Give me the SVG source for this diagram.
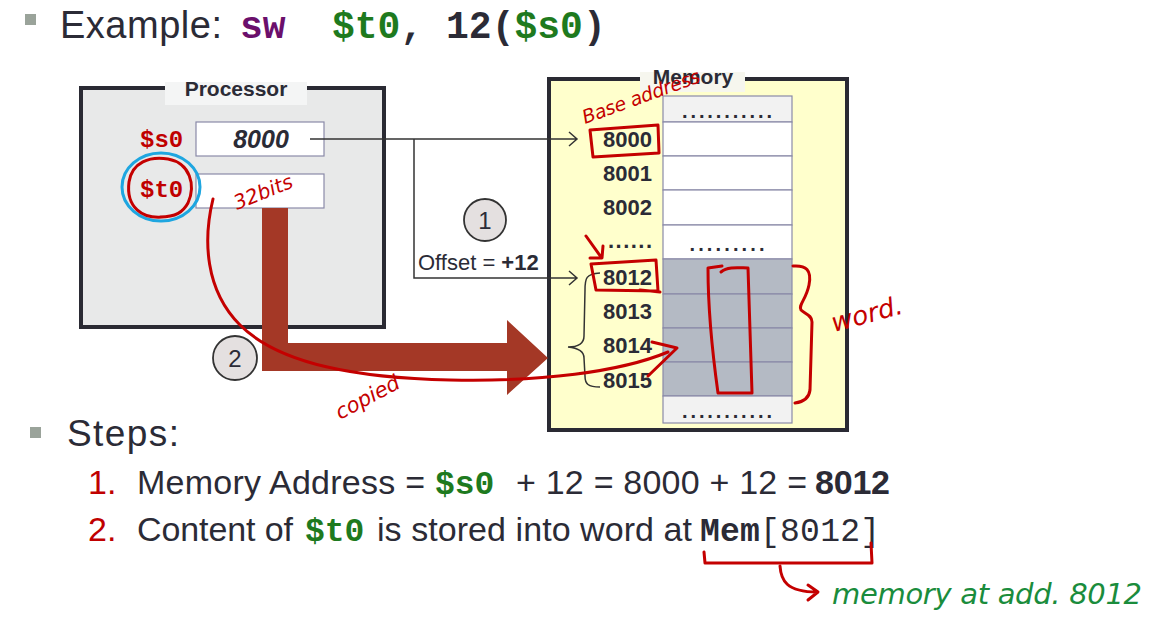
<svg xmlns="http://www.w3.org/2000/svg" width="1149" height="620" viewBox="0 0 1149 620">
<defs>
<style>
.sans{font-family:"Liberation Sans",Arial,sans-serif;fill:#2b2b36}
.mono{font-family:"Liberation Mono","Courier New",monospace;font-weight:bold}
.b{font-weight:bold}
.cell{stroke:#8a8aa8;stroke-width:1.2}
.conn{fill:none;stroke:#333;stroke-width:1.5}
.ink{fill:none;stroke:#c40000;stroke-width:3;stroke-linecap:round;stroke-linejoin:round}
.hand{font-family:"DejaVu Sans",sans-serif;font-style:oblique;fill:#c40000}
.step{font-size:34px}
.circ{fill:#e4e0e0;stroke:#333;stroke-width:1.8}
</style>
</defs>
<rect width="1149" height="620" fill="#fff"/>

<g id="title">
<rect x="25" y="14" width="11" height="11" fill="#9aa39a"/>
<text x="60" y="38" class="sans" font-size="38" textLength="162">Example:</text>
<text x="240" y="38" class="mono" font-size="38"><tspan fill="#6b0f6b">sw</tspan><tspan fill="#1e7a1e" x="332">$t0</tspan><tspan fill="#2b2b36">, 12(</tspan><tspan fill="#1e7a1e">$s0</tspan><tspan fill="#2b2b36">)</tspan></text>
</g>

<g id="processor">
<rect x="81" y="88" width="303" height="239" fill="#e8e9e9" stroke="#2a2a33" stroke-width="4"/>
<rect x="165" y="82" width="142" height="23" fill="#f4f5f5"/>
<text x="236" y="96" text-anchor="middle" class="sans b" font-size="21">Processor</text>
</g>
<g id="reg-s0">
<text x="140" y="147" class="mono" font-size="24" fill="#c00000" font-weight="normal">$s0</text>
<rect x="196" y="122" width="128" height="34" fill="#fff" stroke="#8a8aa8" stroke-width="1.2"/>
<text x="261" y="148" text-anchor="middle" class="sans b" font-style="italic" font-size="25">8000</text>
</g>
<g id="reg-t0">
<text x="140" y="197" class="mono" font-size="24" fill="#c00000" font-weight="normal">$t0</text>
<rect x="196" y="174" width="128" height="34" fill="#fff" stroke="#8a8aa8" stroke-width="1.2"/>
</g>

<g id="memory">
<rect x="549" y="79" width="298" height="351" fill="#ffffcc" stroke="#2a2a33" stroke-width="4"/>
<rect x="640" y="72" width="105" height="20" fill="#f6f6ee"/>
<text x="693" y="84" text-anchor="middle" class="sans b" font-size="21">Memory</text>
<rect x="663" y="96" width="129" height="26" fill="#f2f2f2" class="cell"/>
<rect x="663" y="122" width="129" height="34" fill="#fff" class="cell"/>
<rect x="663" y="156" width="129" height="34" fill="#fff" class="cell"/>
<rect x="663" y="190" width="129" height="35" fill="#fff" class="cell"/>
<rect x="663" y="225" width="129" height="34" fill="#fff" class="cell"/>
<rect x="663" y="259" width="129" height="35" fill="#b4bac4" class="cell"/>
<rect x="663" y="294" width="129" height="34" fill="#b4bac4" class="cell"/>
<rect x="663" y="328" width="129" height="34" fill="#b4bac4" class="cell"/>
<rect x="663" y="362" width="129" height="34" fill="#b4bac4" class="cell"/>
<rect x="663" y="396" width="129" height="27" fill="#f2f2f2" class="cell"/>
<text x="727" y="118" text-anchor="middle" class="sans b" font-size="20" textLength="90">...........</text>
<text x="727" y="251" text-anchor="middle" class="sans b" font-size="20" textLength="75">.........</text>
<text x="727" y="418" text-anchor="middle" class="sans b" font-size="20" textLength="90">...........</text>
<g class="sans b" font-size="22" text-anchor="end">
<text x="652" y="147">8000</text>
<text x="652" y="181">8001</text>
<text x="652" y="215">8002</text>
<text x="652" y="248" textLength="44">......</text>
<text x="652" y="285">8012</text>
<text x="652" y="319">8013</text>
<text x="652" y="353">8014</text>
<text x="652" y="388">8015</text>
</g>
<path class="conn" d="M600,273 C586,274 585,278 585,290 L584,336 C584,344 578,347 568,347 C578,348 584,351 584,358 L585,376 C585,384 588,387 600,387"/>
</g>

<g id="connectors">
<path class="conn" d="M310,139 L576,139 M569,132 L577,139 L569,146"/>
<path class="conn" d="M414,139 L414,278 L576,278 M569,271 L577,278 L569,285"/>
<text x="418" y="270" class="sans" font-size="22">Offset = <tspan class="b">+12</tspan></text>
<path d="M262,208 L288,208 L288,343 L507,343 L507,320 L548,358 L507,395 L507,371 L262,371 Z" fill="#a43826"/>
</g>

<g id="step1">
<circle cx="485" cy="220" r="21" class="circ"/>
<text x="485" y="229" text-anchor="middle" class="sans" font-size="24">1</text>
</g>
<g id="step2">
<circle cx="235" cy="358" r="22" class="circ"/>
<text x="235" y="367" text-anchor="middle" class="sans" font-size="24">2</text>
</g>

<g id="steps">
<rect x="30" y="427" width="11" height="11" fill="#9aa39a"/>
<text x="67" y="446" class="sans" font-size="37" textLength="112">Steps:</text>
<text x="88" y="494" class="step" font-family="Liberation Sans, Arial, sans-serif" fill="#c00000">1.</text>
<text x="137" y="494" class="sans step" textLength="288">Memory Address =</text>
<text x="435" y="494" class="mono" font-size="33" fill="#1e7a1e">$s0</text>
<text x="516" y="494" class="sans step" textLength="291">+ 12 = 8000 + 12 =</text>
<text x="815" y="494" class="sans step b" textLength="75">8012</text>
<text x="88" y="541" class="step" font-family="Liberation Sans, Arial, sans-serif" fill="#c00000">2.</text>
<text x="137" y="541" class="sans step" textLength="156">Content of</text>
<text x="305" y="541" class="mono" font-size="33" fill="#1e7a1e">$t0</text>
<text x="377" y="541" class="sans step" textLength="315">is stored into word at</text>
<text x="700" y="541" class="mono" font-size="33" fill="#2b2b36" textLength="180">Mem<tspan font-weight="normal">[8012]</tspan></text>
</g>

<g id="annotations">
<ellipse cx="161" cy="187" rx="39" ry="34" fill="none" stroke="#1ea6e0" stroke-width="3"/>
<path class="ink" d="M170,216 C140,222 126,205 129,182 C132,162 150,156 168,159 C190,163 196,185 188,203 C183,212 176,217 160,217"/>
<text x="237" y="210" class="hand" font-size="20" transform="rotate(-22 237 210)">32bits</text>
<path class="ink" d="M213,199 C203,240 205,290 240,325 C280,365 360,378 450,380 C540,382 620,372 668,352"/>
<path class="ink" d="M652,342 L677,348 L648,376"/>
<text x="340" y="420" class="hand" font-size="21" transform="rotate(-28 340 420)">copied</text>
<text x="585" y="124" class="hand" font-size="19" textLength="124" transform="rotate(-20 585 124)">Base address</text>
<path class="ink" d="M590,130 L658,125 L659,153 L593,157 Z"/>
<path class="ink" d="M586,236 L601,257 M590,258 L602,258 L603,246"/>
<path class="ink" d="M591,264 L656,260 L658,291 L596,290 Z M640,290 L660,292"/>
<path class="ink" d="M721,272 C728,266 740,268 748,268 L752,393 L718,393 C712,350 708,300 708,268 L722,266"/>
<path class="ink" d="M793,266 C806,265 812,270 809,285 C806,300 798,305 801,310 C805,314 812,315 812,322 L810,390 C809,399 802,402 795,403"/>
<text x="834" y="332" class="hand" font-size="26" transform="rotate(-15 834 332)">word.</text>
<path class="ink" d="M704,552 L705,563 L872,563 L871,543"/>
<path class="ink" d="M780,566 C781,580 786,592 817,592 M808,585 L818,592 L808,600"/>
<text x="832" y="604" class="hand" font-size="29" style="fill:#1a8c3c" textLength="310">memory  at  add. 8012</text>
</g>
</svg>
